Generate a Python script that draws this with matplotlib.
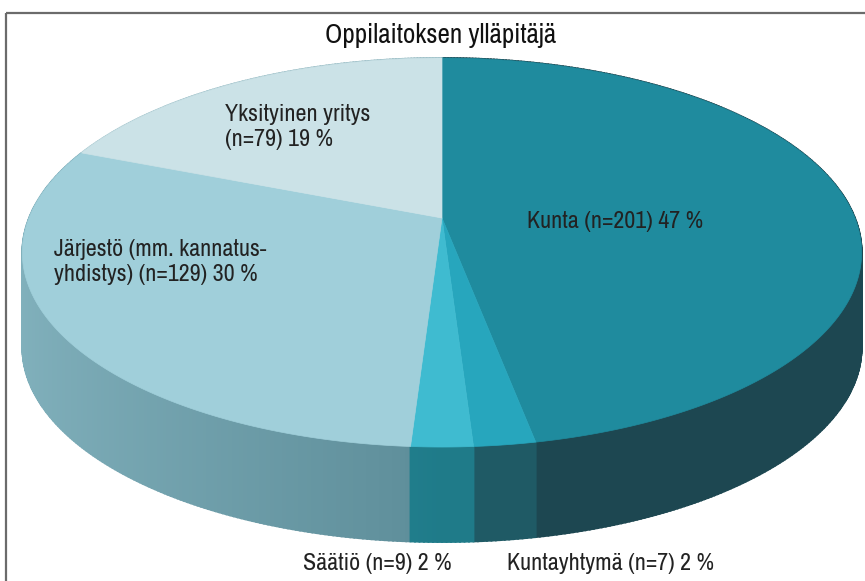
import numpy as np
import matplotlib
matplotlib.use("Agg")
import matplotlib.pyplot as plt
from matplotlib import font_manager
from matplotlib.colors import to_rgb
from matplotlib.patches import Rectangle

title = "Oppilaitoksen ylläpitäjä"
categories = ["Kunta", "Kuntayhtymä", "Säätiö", "Järjestö (mm. kannatus-\nyhdistys)", "Yksityinen yritys"]
counts = [201, 7, 9, 129, 79]
percents = [47, 2, 2, 30, 19]
top_colors = ["#1f8b9e", "#27a6bd", "#3fbbd0", "#a0cfda", "#cbe2e7"]
side_colors = ["#1d4751", "#1f5a65", "#1f7b89", "#5d8d99", "#8fb5be"]
label_texts = [
    "Kunta (n=201) 47 %",
    "Kuntayhtymä (n=7) 2 %",
    "Säätiö (n=9) 2 %",
    "Järjestö (mm. kannatus-\nyhdistys) (n=129) 30 %",
    "Yksityinen yritys\n(n=79) 19 %",
]

narrow = None
for f in font_manager.fontManager.ttflist:
    nm = f.name
    if ("Narrow" in nm or "Condensed" in nm) and "Mono" not in nm and "Serif" not in nm:
        narrow = nm
        break
if narrow:
    fam = [narrow, "DejaVu Sans"]
    fs, tfs = 17.3, 19.5
else:
    fam = ["Liberation Sans", "DejaVu Sans"]
    fs, tfs = 14.2, 16

plt.rcParams["font.family"] = fam

W, H = 865, 581
fig = plt.figure(figsize=(W / 100, H / 100), dpi=100)
ax = fig.add_axes([0, 0, 1, 1])
ax.set_xlim(0, W)
ax.set_ylim(H, 0)
ax.axis("off")

# geometry (perspective projection of a disk)
cx, cy = 442.0, 218.0
A, B, k = 413.0, 188.4, 0.1774
D = 95.0

def proj(t):
    u = np.sin(t)
    v = -np.cos(t)
    w = 1 - k * v
    return cx + A * u / w, cy + B * v / w, u, v

fracs = np.array(percents, dtype=float)
fracs = fracs / fracs.sum()
bounds = np.concatenate([[0], np.cumsum(fracs)]) * 2 * np.pi

# sides
quads = []
for i in range(len(counts)):
    t0, t1 = bounds[i], bounds[i + 1]
    n = max(4, int((t1 - t0) / (2 * np.pi) * 720))
    ts = np.linspace(t0, t1, n + 1)
    X, Y, U, V = proj(ts)
    top = np.array(to_rgb(top_colors[i]))
    side = np.array(to_rgb(side_colors[i]))
    for j in range(n):
        um = 0.5 * (U[j] + U[j + 1])
        vm = 0.5 * (V[j] + V[j + 1])
        b = 0.55 * max(-um, 0.0)
        col = side * (1 - b) + top * b
        xs = [X[j], X[j + 1], X[j + 1], X[j]]
        ys = [Y[j], Y[j + 1], Y[j + 1] + D, Y[j] + D]
        quads.append((vm, xs, ys, col))
quads.sort(key=lambda q: q[0])
for vm, xs, ys, col in quads:
    ax.fill(xs, ys, color=col, lw=1.3, ec=col, zorder=1)

# top faces
for i in range(len(counts)):
    t0, t1 = bounds[i], bounds[i + 1]
    n = max(4, int((t1 - t0) / (2 * np.pi) * 720))
    ts = np.linspace(t0, t1, n + 1)
    X, Y, U, V = proj(ts)
    xs = np.concatenate([[cx], X])
    ys = np.concatenate([[cy], Y])
    ax.fill(xs, ys, color=top_colors[i], lw=0.5, ec=top_colors[i], zorder=2)

# labels
tc = "#222222"
ax.text(527, 222, label_texts[0], fontsize=fs, ha="left", va="center", color=tc, zorder=5)
ax.text(507, 563, label_texts[1], fontsize=fs, ha="left", va="center", color=tc, zorder=5)
ax.text(303, 563, label_texts[2], fontsize=fs, ha="left", va="center", color=tc, zorder=5)
ax.text(54, 262, label_texts[3], fontsize=fs, ha="left", va="center", color=tc, zorder=5, linespacing=1.27)
ax.text(225, 127, label_texts[4], fontsize=fs, ha="left", va="center", color=tc, zorder=5, linespacing=1.27)

ax.text(441, 35, title, fontsize=tfs, ha="center", va="center", color="#111111", zorder=5)

# frame
ax.add_patch(Rectangle((5.5, 12.5), 900, 700, fill=False, ec="#6b6b6b", lw=1.6, zorder=6))

fig.savefig("out.png", dpi=100)
